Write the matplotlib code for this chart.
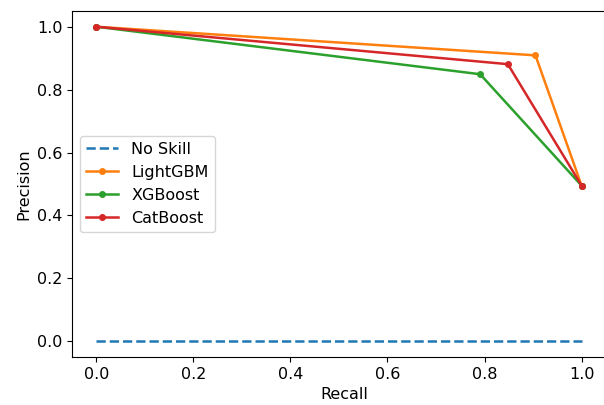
import numpy as np
import matplotlib
matplotlib.use('Agg')
import matplotlib.pyplot as plt

# precision-recall points
no_skill_recall = [0, 1]
no_skill_precision = [0, 0]

lgbm_recall = [0.0, 0.905, 1.0]
lgbm_precision = [1.0, 0.909, 0.495]

xgb_recall = [0.0, 0.791, 1.0]
xgb_precision = [1.0, 0.849, 0.495]

cat_recall = [0.0, 0.848, 1.0]
cat_precision = [1.0, 0.881, 0.495]

plt.rcParams['font.size'] = 11.5
plt.rcParams['lines.linewidth'] = 1.8

fig = plt.figure(figsize=(6.04, 4.05), dpi=100)
# the right spine sits just past the picture's edge in the reference
ax = fig.add_axes([72/604, 48/405, 545/604, 346/405])

ax.plot(no_skill_recall, no_skill_precision, linestyle='--', label='No Skill')
ax.plot(lgbm_recall, lgbm_precision, marker='.', markersize=8, label='LightGBM')
ax.plot(xgb_recall, xgb_precision, marker='.', markersize=8, label='XGBoost')
ax.plot(cat_recall, cat_precision, marker='.', markersize=8, label='CatBoost')

ax.set_xlim(-0.05, 1.073)
ax.set_xlabel('Recall')
ax.set_ylabel('Precision')
ax.legend(loc='center left')

fig.savefig('out.png', dpi=100)
